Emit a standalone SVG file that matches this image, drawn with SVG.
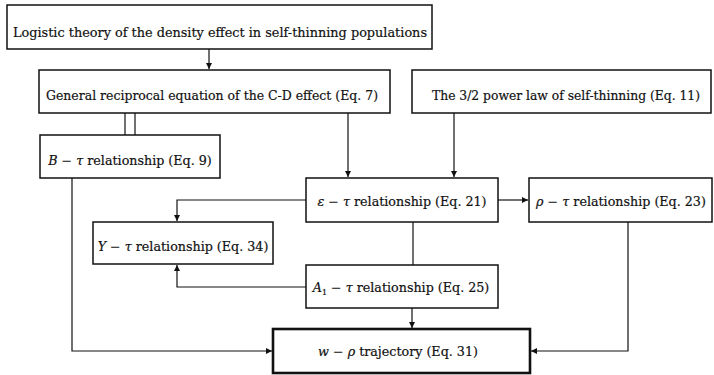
<svg xmlns="http://www.w3.org/2000/svg" width="714" height="375" viewBox="0 0 714 375">
<defs>
<style>
.box{fill:#fff;stroke:#111;stroke-width:1.5}
.thick{stroke-width:2.6}
.t{font-family:"DejaVu Serif","Liberation Serif",serif;font-size:13.5px;fill:#111;stroke:#111;stroke-width:0.2;text-anchor:middle}
.s{font-size:12.7px}
.i{font-style:italic}
.c{fill:none;stroke:#111;stroke-width:1.2}
</style>
<marker id="ah" viewBox="0 0 8 8" refX="8" refY="4" markerWidth="6" markerHeight="6" orient="auto" markerUnits="userSpaceOnUse">
<path d="M0,0 L8,4 L0,8 Z" fill="#111"/>
</marker>
</defs>
<rect width="714" height="375" fill="#fff"/>
<g id="connectors">
<line class="c" x1="209" y1="49" x2="209" y2="69" marker-end="url(#ah)"/>
<line class="c" x1="125" y1="113" x2="125" y2="135"/>
<line class="c" x1="135" y1="113" x2="135" y2="135"/>
<line class="c" x1="348" y1="113" x2="348" y2="177" marker-end="url(#ah)"/>
<line class="c" x1="454" y1="113" x2="454" y2="177" marker-end="url(#ah)"/>
<line class="c" x1="498" y1="200" x2="528" y2="200" marker-end="url(#ah)"/>
<polyline class="c" points="306,200 177,200 177,221" marker-end="url(#ah)"/>
<line class="c" x1="413" y1="222" x2="413" y2="265"/>
<polyline class="c" points="306,287 177,287 177,265" marker-end="url(#ah)"/>
<line class="c" x1="412" y1="308" x2="412" y2="328" marker-end="url(#ah)"/>
<polyline class="c" points="72,178 72,351 272,351" marker-end="url(#ah)"/>
<polyline class="c" points="628,222 628,351 531,351" marker-end="url(#ah)"/>
</g>
<g id="logistic">
<rect class="box" x="7" y="5" width="425" height="44"/>
<text class="t" x="220" y="37" textLength="414" lengthAdjust="spacingAndGlyphs">Logistic theory of the density effect in self-thinning populations</text>
</g>
<g id="general">
<rect class="box" x="39" y="70" width="351" height="43"/>
<text class="t" x="212" y="100" textLength="332" lengthAdjust="spacingAndGlyphs">General reciprocal equation of the C-D effect (Eq. 7)</text>
</g>
<g id="powerlaw">
<rect class="box" x="412" y="70" width="299" height="43"/>
<text class="t s" x="566" y="100" textLength="268" lengthAdjust="spacingAndGlyphs">The 3/2 power law of self-thinning (Eq. 11)</text>
</g>
<g id="btau">
<rect class="box" x="40" y="135" width="180" height="43"/>
<text class="t s" x="130" y="165"><tspan class="i">B</tspan> − <tspan class="i">τ</tspan> relationship (Eq. 9)</text>
</g>
<g id="epstau">
<rect class="box" x="306" y="178" width="192" height="44"/>
<text class="t s" x="402" y="206"><tspan class="i">ε</tspan> − <tspan class="i">τ</tspan> relationship (Eq. 21)</text>
</g>
<g id="rhotau">
<rect class="box" x="529" y="178" width="183" height="44"/>
<text class="t s" x="621" y="206"><tspan class="i">ρ</tspan> − <tspan class="i">τ</tspan> relationship (Eq. 23)</text>
</g>
<g id="ytau">
<rect class="box" x="93" y="222" width="180" height="42"/>
<text class="t s" x="183" y="251"><tspan class="i">Y</tspan> − <tspan class="i">τ</tspan> relationship (Eq. 34)</text>
</g>
<g id="a1tau">
<rect class="box" x="306" y="265" width="192" height="43"/>
<text class="t s" x="401" y="292"><tspan class="i">A</tspan><tspan font-size="8" dy="3">1</tspan><tspan dy="-3"> − </tspan><tspan class="i">τ</tspan> relationship (Eq. 25)</text>
</g>
<g id="wrho">
<rect class="box thick" x="273" y="329" width="257" height="44"/>
<text class="t s" x="398" y="356"><tspan class="i">w</tspan> − <tspan class="i">ρ</tspan> trajectory (Eq. 31)</text>
</g>
</svg>
